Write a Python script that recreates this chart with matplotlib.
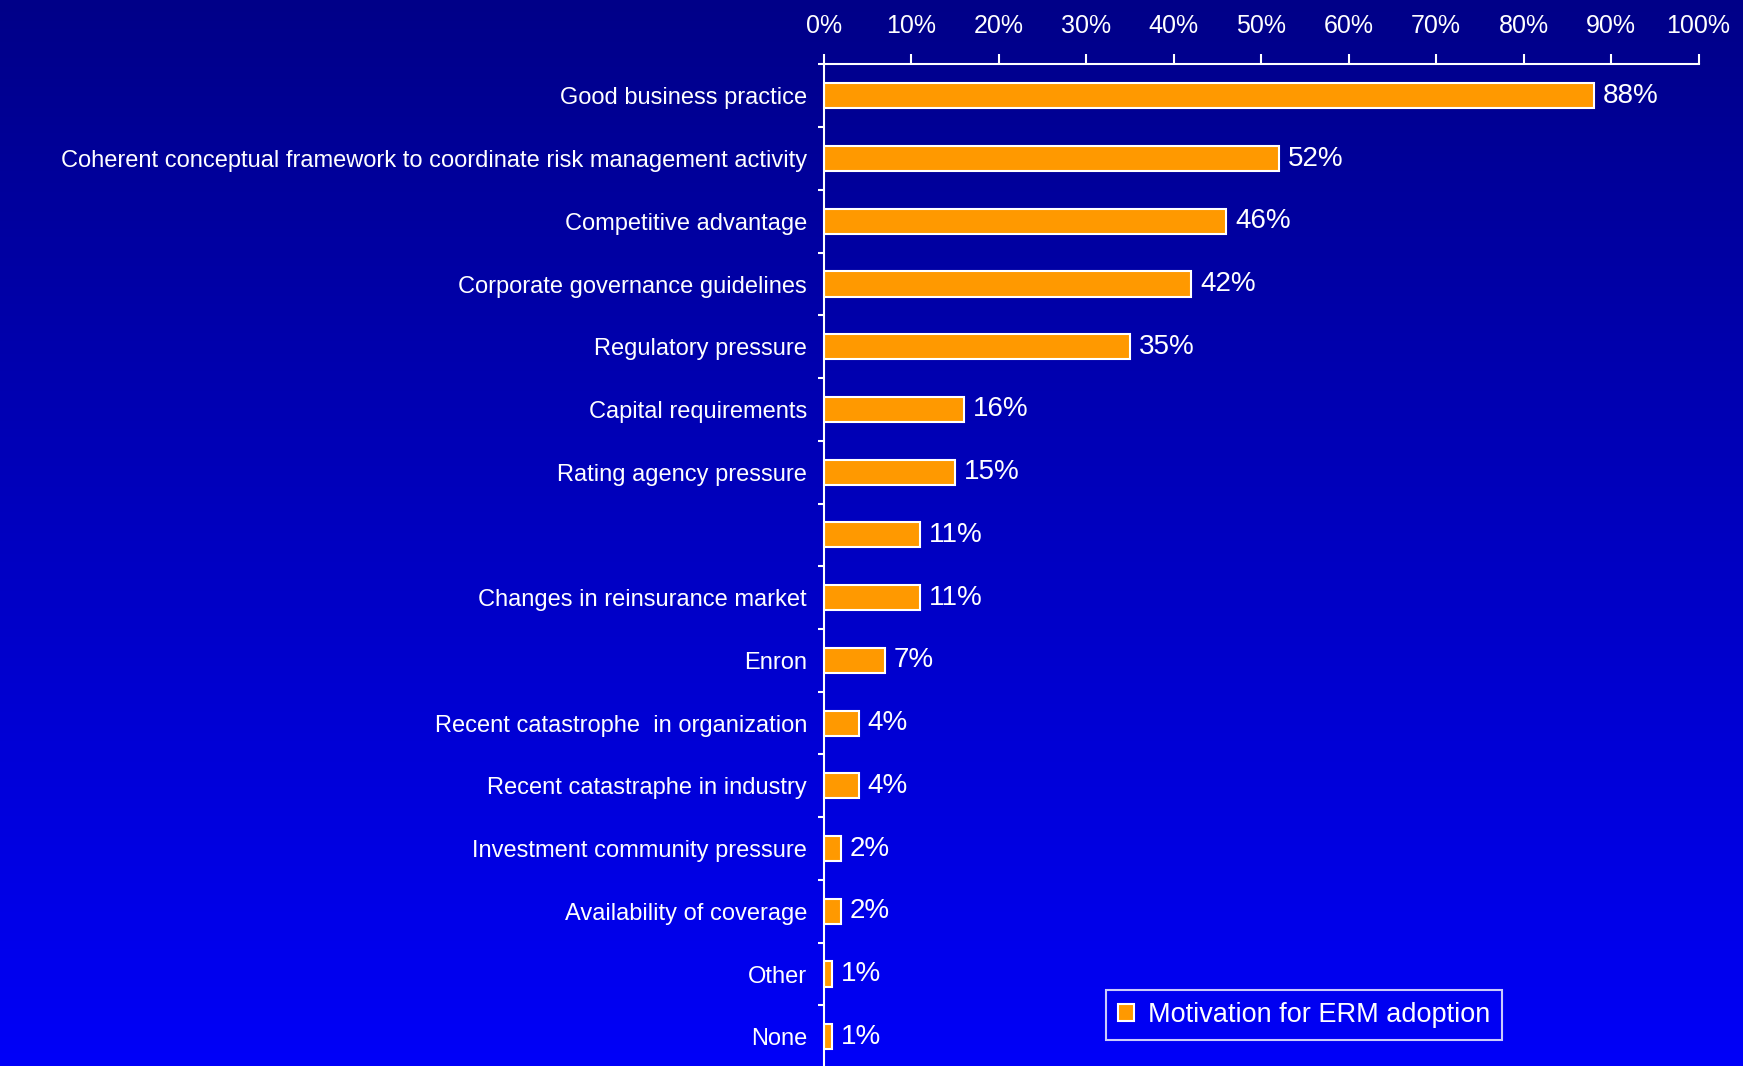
import matplotlib
matplotlib.use("Agg")
import matplotlib.pyplot as plt
import numpy as np
from matplotlib.patches import Patch

categories = [
    "Good business practice",
    "Coherent conceptual framework to coordinate risk management activity",
    "Competitive advantage",
    "Corporate governance guidelines",
    "Regulatory pressure",
    "Capital requirements",
    "Rating agency pressure",
    "",
    "Changes in reinsurance market",
    "Enron",
    "Recent catastrophe  in organization",
    "Recent catastraphe in industry",
    "Investment community pressure",
    "Availability of coverage",
    "Other",
    "None",
]
values = [88, 52, 46, 42, 35, 16, 15, 11, 11, 7, 4, 4, 2, 2, 1, 1]
xticks = [0, 10, 20, 30, 40, 50, 60, 70, 80, 90, 100]
xtick_labels = [f"{t}%" for t in xticks]
series_name = "Motivation for ERM adoption"

plt.rcParams['font.family'] = ['Liberation Sans', 'DejaVu Sans']

fig = plt.figure(figsize=(17.43, 10.66), dpi=100)

# gradient background
bg = fig.add_axes([0, 0, 1, 1], zorder=0)
grad = np.linspace(0, 1, 256).reshape(-1, 1)
top = np.array([0x00, 0x00, 0x88]) / 255
bot = np.array([0x00, 0x00, 0xF8]) / 255
img = top[None, None, :] * (1 - grad[:, :, None]) + bot[None, None, :] * grad[:, :, None]
bg.imshow(img, aspect='auto', extent=[0, 1, 0, 1])
bg.set_axis_off()

ax = fig.add_axes([0.4726, -0.002, 0.5019, 0.9415], zorder=1)
ax.patch.set_alpha(0)

y = np.arange(len(categories))
ax.barh(y, values, height=0.4, color="#FF9900", edgecolor="white",
        linewidth=1.5, label=series_name)
ax.set_ylim(len(categories) - 0.5, -0.5)
ax.set_xlim(0, 100)

for yi, v in zip(y, values):
    ax.text(v + 1.0, yi, f"{v}%", va="center", ha="left", color="white", fontsize=20)

ax.xaxis.tick_top()
ax.set_xticks(xticks)
ax.set_xticklabels(xtick_labels, color="white", fontsize=18)
ax.tick_params(axis='x', which='major', direction='out', length=7, width=1.5,
               color='white', pad=12)

ax.set_yticks(y)
ax.set_yticklabels(categories, color="white", fontsize=17)
ax.tick_params(axis='y', which='major', length=0, pad=12)
ax.set_yticks(np.arange(-0.5, len(categories), 1), minor=True)
ax.tick_params(axis='y', which='minor', direction='out', length=4, width=1.5, color='white')

for s in ["right", "bottom"]:
    ax.spines[s].set_visible(False)
for s in ["left", "top"]:
    ax.spines[s].set_color("white")
    ax.spines[s].set_linewidth(1.5)

handle = Patch(facecolor="#FF9900", edgecolor="white", linewidth=1.5)
leg = ax.legend([handle], [series_name], loc="lower left",
                bbox_to_anchor=(0.3227, 0.0277), borderaxespad=0, fontsize=19.5,
                frameon=True, fancybox=False, handlelength=0.6, handleheight=0.6,
                handletextpad=0.5, borderpad=0.45, labelcolor="white")
leg.get_frame().set_edgecolor("white")
leg.get_frame().set_linewidth(1.5)
leg.get_frame().set_facecolor("none")

fig.savefig("out.png", dpi=100)
